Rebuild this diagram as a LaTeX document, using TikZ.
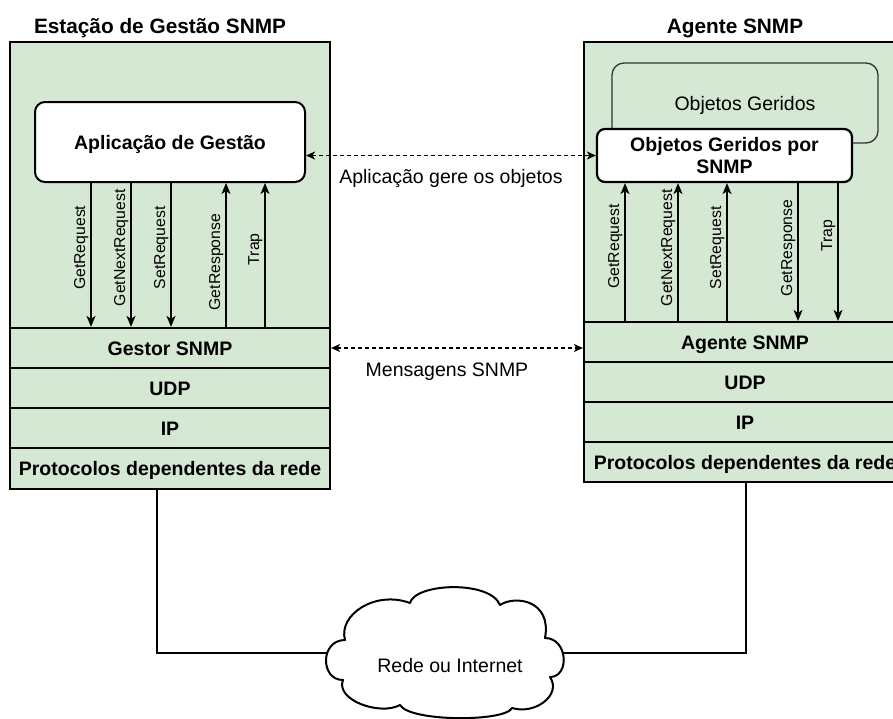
\documentclass[tikz,border=0pt]{standalone}
\usepackage{fontspec}
\setmainfont{Liberation Sans}
\usetikzlibrary{arrows.meta}
\definecolor{layergreen}{HTML}{D5E8D4}
\definecolor{edgegray}{HTML}{333333}

\begin{document}
\begin{tikzpicture}[x=1pt,y=-1pt,
  station/.style={draw, line width=2.2pt, fill=layergreen, inner sep=0pt},
  layer/.style={draw, line width=2.2pt, fill=layergreen, minimum height=40pt,
    inner sep=2pt, text height=14pt, text depth=0pt,
    font=\fontsize{19.5}{22}\selectfont\bfseries},
  title/.style={anchor=base, inner sep=0pt, font=\fontsize{20.8}{24}\selectfont\bfseries},
  appbox/.style={draw, line width=2pt, fill=white, rounded corners=10pt,
    font=\fontsize{19.5}{21.5}\selectfont\bfseries, align=center},
  objbg/.style={draw=edgegray, line width=1.3pt, fill=layergreen, rounded corners=12pt,
    text height=14pt, text depth=0pt, font=\fontsize{19.5}{22}\selectfont},
  sig/.style={line width=1.3pt, -{Stealth[length=11pt,width=9pt,inset=3pt]}},
  siglabel/.style={rotate=90, anchor=south, inner sep=2pt,
    font=\fontsize{15.8}{18}\selectfont},
  peer/.style={line width=1.4pt, dash pattern=on 4pt off 3pt,
    {Stealth[length=9pt,width=8pt,inset=2.5pt]}-{Stealth[length=9pt,width=8pt,inset=2.5pt]}},
  peerlabel/.style={anchor=base, inner sep=0pt, font=\fontsize{19.5}{22}\selectfont},
  link/.style={line width=2pt},
  cloudline/.style={draw, line width=2pt, fill=white, line join=round}
]
\useasboundingbox (0,0) rectangle (893,718);
\clip (0,0) rectangle (893,718);
\fill[white] (0,0) rectangle (893,718);

% ---------- management station ----------
\node[title] (mgrtitle) at (160,33) {Estação de Gestão SNMP};
\node[station, minimum width=320pt, minimum height=447pt] (mgrbox) at (170,265.5) {};
\node[layer, minimum width=320pt] (gestor) at (170,348) {Gestor SNMP};
\node[layer, minimum width=320pt] (mgrudp) at (170,388) {UDP};
\node[layer, minimum width=320pt] (mgrip) at (170,428) {IP};
\node[layer, minimum width=320pt, minimum height=41pt] (mgrproto) at (170,468.5) {Protocolos dependentes da rede};
\node[appbox, minimum width=270pt, minimum height=80pt, text height=14pt, text depth=0pt] (app) at (170,142) {Aplicação de Gestão};

% ---------- agent ----------
\node[title] (agttitle) at (735,33) {Agente SNMP};
\node[station, minimum width=322pt, minimum height=440pt] (agtbox) at (745,262) {};
\node[layer, minimum width=322pt] (agent) at (745,342) {Agente SNMP};
\node[layer, minimum width=322pt] (agtudp) at (745,382) {UDP};
\node[layer, minimum width=322pt] (agtip) at (745,422) {IP};
\node[layer, minimum width=322pt] (agtproto) at (745,462) {Protocolos dependentes da rede};
\node[objbg, minimum width=266pt, minimum height=80pt] (objs) at (745,103) {Objetos Geridos};
\node[appbox, line width=2.2pt, rounded corners=8pt, minimum width=255pt, minimum height=53pt, inner sep=1pt] (ogps) at (724.5,155.5) {Objetos Geridos por\\SNMP};

% ---------- SNMP operations, manager side ----------
\coordinate (m1) at ([xshift=-79pt]gestor.north);
\coordinate (m2) at ([xshift=-39pt]gestor.north);
\coordinate (m3) at ([xshift=1pt]gestor.north);
\coordinate (m4) at ([xshift=56pt]gestor.north);
\coordinate (m5) at ([xshift=95pt]gestor.north);
\draw[sig] (m1 |- app.south) -- node[siglabel, pos=0.45] {GetRequest} (m1);
\draw[sig] (m2 |- app.south) -- node[siglabel, pos=0.45] {GetNextRequest} (m2);
\draw[sig] (m3 |- app.south) -- node[siglabel, pos=0.45] {SetRequest} (m3);
\draw[sig] (m4) -- node[siglabel, pos=0.45] {GetResponse} (m4 |- app.south);
\draw[sig] (m5) -- node[siglabel, pos=0.54] {Trap} (m5 |- app.south);

% ---------- SNMP operations, agent side ----------
\coordinate (a1) at ([xshift=-120pt]agent.north);
\coordinate (a2) at ([xshift=-67pt]agent.north);
\coordinate (a3) at ([xshift=-18pt]agent.north);
\coordinate (a4) at ([xshift=53pt]agent.north);
\coordinate (a5) at ([xshift=93pt]agent.north);
\draw[sig] (a1) -- node[siglabel, pos=0.54] {GetRequest} (a1 |- ogps.south);
\draw[sig] (a2) -- node[siglabel, pos=0.53] {GetNextRequest} (a2 |- ogps.south);
\draw[sig] (a3) -- node[siglabel, pos=0.53] {SetRequest} (a3 |- ogps.south);
\draw[sig] (a4 |- ogps.south) -- node[siglabel, pos=0.47] {GetResponse} (a4);
\draw[sig] (a5 |- ogps.south) -- node[siglabel, pos=0.38] {Trap} (a5);

% ---------- peer relations ----------
\draw[peer] (app.east |- ogps.west) -- node[peerlabel, midway, yshift=-28pt] {Aplicação gere os objetos} (ogps.west);
\draw[peer] (gestor.east) -- node[peerlabel, midway, xshift=-10pt, yshift=-28.5pt] {Mensagens SNMP} (gestor.east -| agent.west);

% ---------- network ----------
\coordinate (mgrnet) at ([xshift=-13pt]mgrproto.south);
\coordinate (agtnet) at ([xshift=1pt]agtproto.south);
\coordinate (cloudL) at (330,653);
\coordinate (cloudR) at (560,653);
\draw[link] (mgrnet) |- (cloudL);
\draw[link] (agtnet) |- (cloudR);

\path[cloudline] (410,603)
  .. controls (415,583) and (490,580) .. (500,605)
  .. controls (515,595) and (552,600) .. (545,638)
  .. controls (568,638) and (570,677) .. (550,677)
  .. controls (562,695) and (535,715) .. (512,708)
  .. controls (505,722) and (410,722) .. (400,705)
  .. controls (380,716) and (335,700) .. (343,680)
  .. controls (320,680) and (320,640) .. (345,640)
  .. controls (338,615) and (375,590) .. (410,603) -- cycle;
\node[peerlabel, anchor=center, text height=14pt, text depth=0pt] (cloud) at (450,665) {Rede ou Internet};
\end{tikzpicture}
\end{document}
